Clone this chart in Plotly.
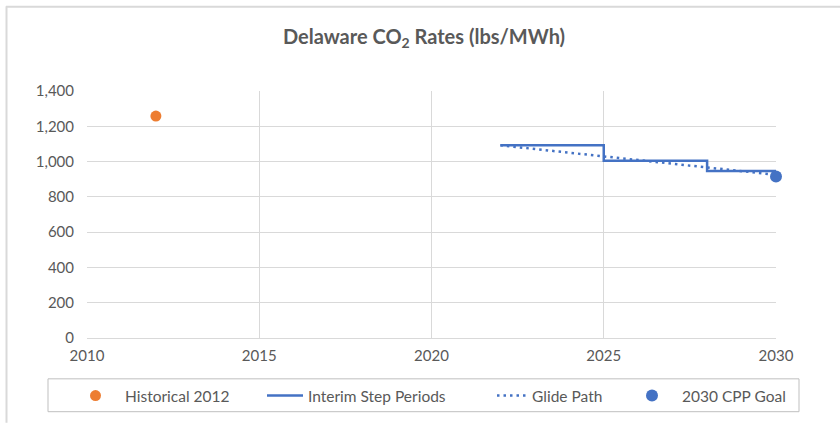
import plotly.graph_objects as go

hist_year = [2012]
hist_value = [1258]

step_years = [2022, 2025, 2025, 2028, 2028, 2030]
step_values = [1093, 1093, 1004, 1004, 947, 947]

glide_years = [2022, 2023, 2024, 2025, 2026, 2027, 2028, 2029, 2030]
glide_values = [1092, 1071, 1050, 1030, 1009, 988, 968, 946, 925]

goal_year = [2030]
goal_value = [916]

x_ticks = [2010, 2015, 2020, 2025, 2030]
y_ticks = [0, 200, 400, 600, 800, 1000, 1200, 1400]

BLUE = "#4472C4"
ORANGE = "#ED7D31"
TXT = "#595959"
FONT = "Lato, Open Sans, sans-serif"

L, R, T, B = 87, 64, 91, 85
W, H = 840, 424
pw, ph = W - L - R, H - T - B


def px_x(p):
    return (p - L) / pw


def px_y(p):
    return (H - B - p) / ph


fig = go.Figure()
fig.add_trace(go.Scatter(x=hist_year, y=hist_value, mode="markers", name="Historical 2012",
                         marker=dict(color=ORANGE, size=11), legend="legend"))
fig.add_trace(go.Scatter(x=step_years, y=step_values, mode="lines", name="Interim Step Periods",
                         line=dict(color=BLUE, width=2.5), legend="legend2"))
fig.add_trace(go.Scatter(x=glide_years, y=glide_values, mode="lines", name="Glide Path",
                         line=dict(color=BLUE, width=2.5, dash="2.5px,4px"), legend="legend3"))
fig.add_trace(go.Scatter(x=goal_year, y=goal_value, mode="markers", name="2030 CPP Goal",
                         marker=dict(color=BLUE, size=12), cliponaxis=False, legend="legend4"))

leg_y = px_y(396)


def leg(xpx, iw=30):
    return dict(orientation="h", x=px_x(xpx), xanchor="left", y=leg_y, yanchor="middle",
                bgcolor="rgba(0,0,0,0)", borderwidth=0, itemwidth=iw,
                font=dict(size=15.5, color=TXT, family=FONT))


fig.update_layout(
    width=W, height=H,
    margin=dict(l=L, r=R, t=T, b=B),
    paper_bgcolor="white", plot_bgcolor="white",
    font=dict(family=FONT, color=TXT, size=15),
    title=dict(text="<b>Delaware CO<sub>2</sub> Rates (lbs/MWh)</b>", x=px_x(424), xanchor="center",
               xref="paper", y=1 - 37 / H, yanchor="middle",
               font=dict(size=20, color=TXT, family=FONT)),
    xaxis=dict(range=[2010, 2030], tickvals=x_ticks, showgrid=True, gridcolor="#D9D9D9",
               gridwidth=1, zeroline=False, showline=True, linecolor="#D9D9D9",
               ticks="", ticklabelstandoff=4, tickfont=dict(size=15, color=TXT)),
    yaxis=dict(range=[0, 1400], tickvals=y_ticks, tickformat=",", showgrid=True,
               gridcolor="#D9D9D9", gridwidth=1, zeroline=False, showline=False,
               ticks="", ticklabelstandoff=12, tickfont=dict(size=15, color=TXT)),
    showlegend=True,
    legend=leg(66, 49),
    legend2=leg(262, 36),
    legend3=leg(492),
    legend4=leg(622, 50),
    shapes=[
        dict(type="line", xref="paper", yref="paper", x0=px_x(6), x1=px_x(840), y0=px_y(6.5), y1=px_y(6.5),
             line=dict(color="#D9D9D9", width=2), layer="below"),
        dict(type="line", xref="paper", yref="paper", x0=px_x(6.5), x1=px_x(6.5), y0=px_y(6), y1=px_y(424),
             line=dict(color="#D9D9D9", width=2), layer="below"),
        dict(type="rect", xref="paper", yref="paper", x0=px_x(48), x1=px_x(799), y0=px_y(380), y1=px_y(413),
             line=dict(color="#BFBFBF", width=1), fillcolor="rgba(0,0,0,0)", layer="below"),
    ],
)

fig.write_html("out.html", config={"displayModeBar": False},
               post_script="document.body.style.margin='0';")
